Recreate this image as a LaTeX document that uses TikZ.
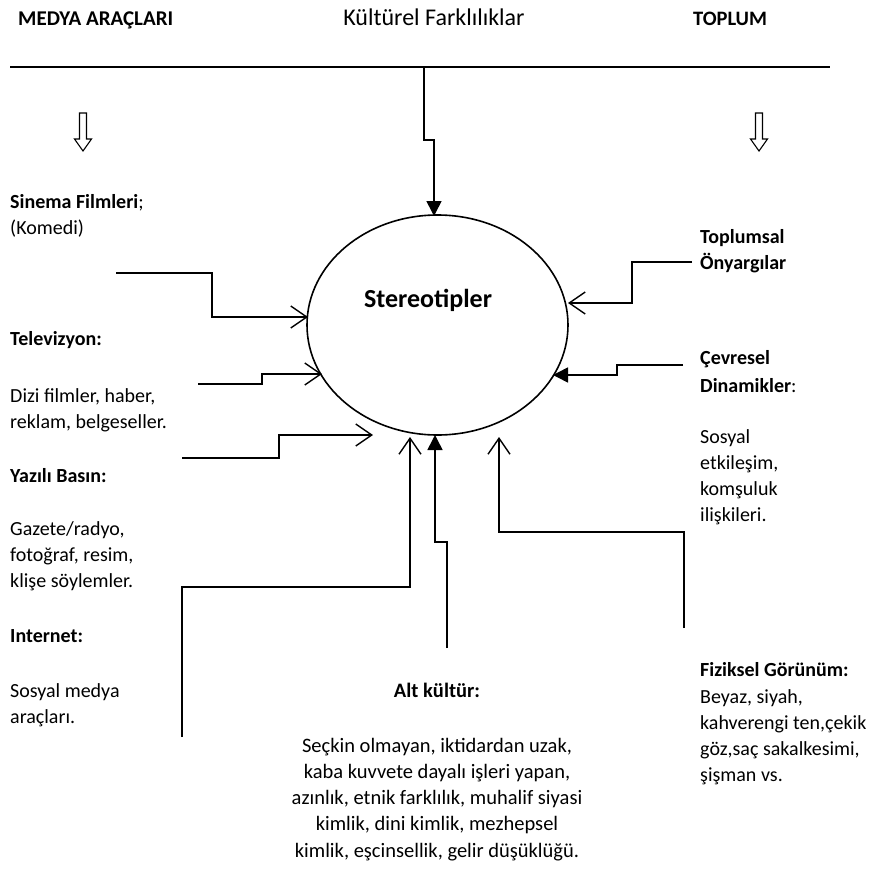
\documentclass[tikz,border=0pt]{standalone}
\usepackage{fontspec}
\setmainfont{Carlito}
\usetikzlibrary{arrows.meta}
\begin{document}
\begin{tikzpicture}[x=1pt,y=-1pt,
  ln/.style={line width=1.6pt},
  openarr/.style={ln,-{Straight Barb[length=16pt,width=22pt,line width=1.4pt]}},
  fillarr/.style={ln,-{Triangle[length=15pt,width=15pt]}},
  txt/.style={anchor=base west,inner sep=0pt,font=\fontsize{20}{26}\selectfont},
  ctxt/.style={anchor=base,inner sep=0pt,font=\fontsize{20.5}{26}\selectfont},
  hollow/.style={line width=1.1pt,fill=white}]
\useasboundingbox (0,0) rectangle (885,886);
% headings
\node[txt,font=\fontsize{21}{26}\selectfont\bfseries] (hmedya) at (18,25) {MEDYA ARAÇLARI};
\node[ctxt,font=\fontsize{24}{26}\selectfont] (hkult) at (434,25) {Kültürel Farklılıklar};
\node[txt,font=\fontsize{20.5}{26}\selectfont\bfseries] (htoplum) at (693,25) {TOPLUM};
\coordinate (hl) at (10,67);
\coordinate (hr) at (830,67);
\draw[ln] (hl) -- (hr);
% hollow down arrows
\foreach \xx/\nm in {83/la,759/ra}{
  \draw[hollow] (\xx-3.5,113) -- (\xx-3.5,139) -- (\xx-8.5,139) -- (\xx,151)
     -- (\xx+8.5,139) -- (\xx+3.5,139) -- (\xx+3.5,113) -- cycle;
}
% ellipse
\draw[ln] (437.5,325) ellipse (130.5 and 110);
\node[inner sep=0pt,font=\fontsize{26}{30}\selectfont\bfseries] (stereo) at (428,300) {Stereotipler};
% top connector
\coordinate (t0) at (424,67);
\coordinate (t1) at (424,140);
\coordinate (t2) at (434,140);
\coordinate (t3) at (434,216);
\draw[fillarr] (t0) -- (t1) -- (t2) -- (t3);
% left texts
\node[txt] (sin1) at (10,208) {\bfseries Sinema Filmleri\mdseries;};
\node[txt] (sin2) at (10,234) {(Komedi)};
\node[txt] (tv1) at (10,345) {\bfseries Televizyon:};
\node[txt] (tv2) at (10,402) {Dizi filmler, haber,};
\node[txt] (tv3) at (10,428) {reklam, belgeseller.};
\node[txt] (yb1) at (10,482) {\bfseries Yazılı Basın:};
\node[txt] (yb2) at (10,535) {Gazete/radyo,};
\node[txt] (yb3) at (10,561) {fotoğraf, resim,};
\node[txt] (yb4) at (10,587) {klişe söylemler.};
\node[txt] (in1) at (10,642) {\bfseries Internet:};
\node[txt] (in2) at (10,697) {Sosyal medya};
\node[txt] (in3) at (10,723) {araçları.};
% right texts
\node[txt] (tp1) at (700,243) {\bfseries Toplumsal};
\node[txt] (tp2) at (700,269) {\bfseries Önyargılar};
\node[txt] (cv1) at (700,364) {\bfseries Çevresel};
\node[txt] (cv2) at (700,392) {\bfseries Dinamikler\mdseries:};
\node[txt] (cv3) at (700,443) {Sosyal};
\node[txt] (cv4) at (700,469) {etkileşim,};
\node[txt] (cv5) at (700,495) {komşuluk};
\node[txt] (cv6) at (700,521) {ilişkileri.};
\node[txt] (fz1) at (700,676) {\bfseries Fiziksel Görünüm:};
\node[txt] (fz2) at (700,703) {Beyaz, siyah,};
\node[txt] (fz3) at (700,729) {kahverengi ten,çekik};
\node[txt] (fz4) at (700,755) {göz,saç sakalkesimi,};
\node[txt] (fz5) at (700,781) {şişman vs.};
% bottom texts
\node[ctxt] (al1) at (437,697) {\bfseries Alt kültür:};
\node[ctxt] (al2) at (437,752) {Seçkin olmayan, iktidardan uzak,};
\node[ctxt] (al3) at (437,778) {kaba kuvvete dayalı işleri yapan,};
\node[ctxt] (al4) at (437,804) {azınlık, etnik farklılık, muhalif siyasi};
\node[ctxt] (al5) at (437,830) {kimlik, dini kimlik, mezhepsel};
\node[ctxt] (al6) at (437,857) {kimlik, eşcinsellik, gelir düşüklüğü.};
% left connectors
\coordinate (s0) at (116,273); \coordinate (s1) at (212,273);
\coordinate (s2) at (212,317); \coordinate (s3) at (308,317);
\draw[openarr] (s0) -- (s1) -- (s2) -- (s3);
\coordinate (v0) at (198,384); \coordinate (v1) at (262,384);
\coordinate (v2) at (262,374); \coordinate (v3) at (322,374);
\draw[openarr] (v0) -- (v1) -- (v2) -- (v3);
\coordinate (y0) at (182,458); \coordinate (y1) at (279,458);
\coordinate (y2) at (279,435); \coordinate (y3) at (373,435);
\draw[openarr] (y0) -- (y1) -- (y2) -- (y3);
\coordinate (i0) at (182,737); \coordinate (i1) at (182,587);
\coordinate (i2) at (410,587); \coordinate (i3) at (410,437);
\draw[openarr] (i0) -- (i1) -- (i2) -- (i3);
% bottom connector
\coordinate (a0) at (447,648); \coordinate (a1) at (447,542);
\coordinate (a2) at (435,542); \coordinate (a3) at (435,435);
\draw[fillarr] (a0) -- (a1) -- (a2) -- (a3);
% right connectors
\coordinate (f0) at (684,628); \coordinate (f1) at (684,532);
\coordinate (f2) at (499,532); \coordinate (f3) at (499,437);
\draw[openarr] (f0) -- (f1) -- (f2) -- (f3);
\coordinate (p0) at (692,262); \coordinate (p1) at (632,262);
\coordinate (p2) at (632,303); \coordinate (p3) at (568,303);
\draw[openarr] (p0) -- (p1) -- (p2) -- (p3);
\coordinate (c0) at (683,365); \coordinate (c1) at (617,365);
\coordinate (c2) at (617,375); \coordinate (c3) at (553,375);
\draw[fillarr] (c0) -- (c1) -- (c2) -- (c3);
\end{tikzpicture}
\end{document}
